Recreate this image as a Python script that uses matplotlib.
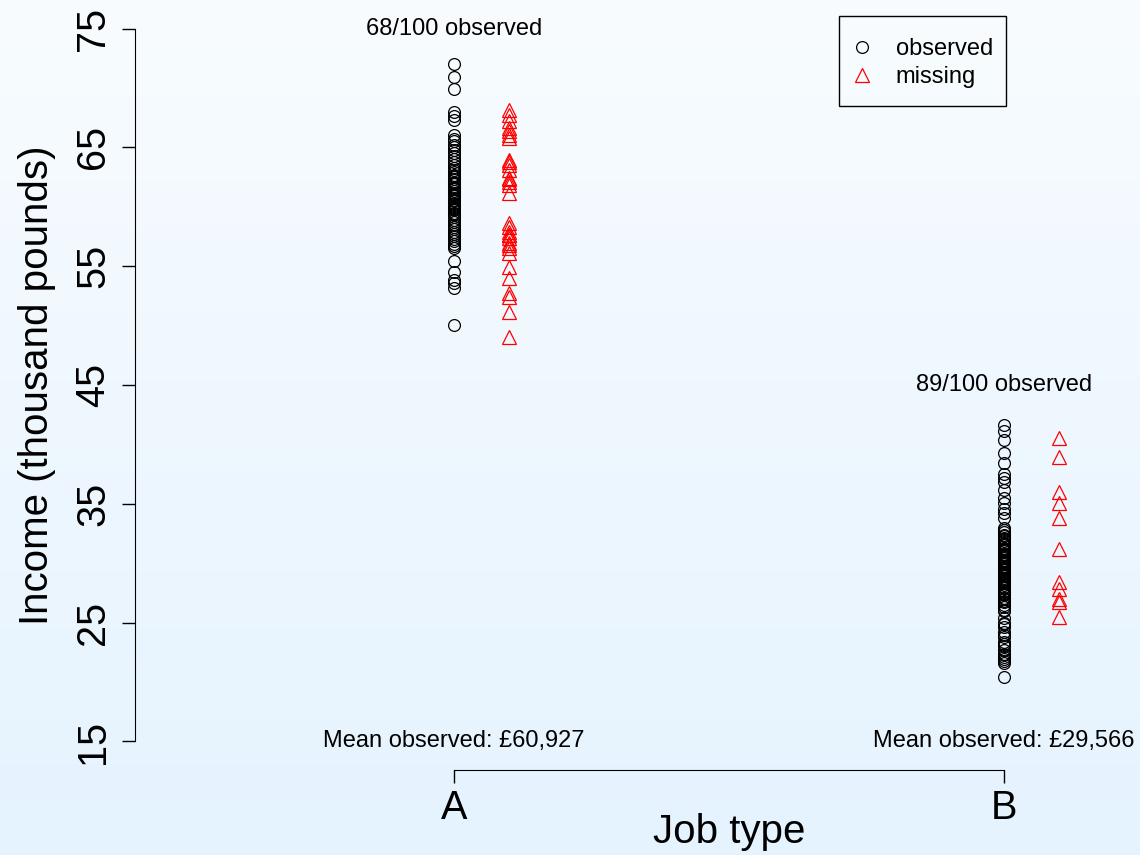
import matplotlib
matplotlib.use("Agg")
import matplotlib.pyplot as plt
from matplotlib.lines import Line2D
from matplotlib.patches import Rectangle
import numpy as np

# income values (thousand pounds)
a_observed = [72.05, 70.9, 69.9, 68.0, 67.6, 67.3,
              66.0, 65.7, 65.5, 65.2, 65.0, 64.8, 64.5, 64.3, 64.0, 63.8,
              63.5, 63.3, 63.1, 62.9, 62.7, 62.6, 62.5, 62.3, 62.1, 62.0,
              61.9, 61.7, 61.6, 61.5, 61.3, 61.2, 61.1, 61.0, 60.9, 60.7,
              60.6, 60.5, 60.3, 60.2, 60.1, 60.0, 59.9, 59.8, 59.7, 59.5,
              59.4, 59.3, 59.1, 58.9, 58.7, 58.5, 58.3, 58.1, 57.9, 57.7,
              57.5, 57.3, 57.1, 56.9, 56.7, 56.5,
              55.4, 54.5, 53.8, 53.6, 53.2, 50.05]
a_missing = [68.17, 67.75, 67.19, 66.66, 66.4, 66.07, 65.82,
             63.96, 63.8, 63.54, 63.12, 62.44, 62.3, 62.11, 61.85, 61.18,
             58.65, 58.31, 57.89, 57.64, 57.6, 57.39, 56.97, 56.8, 56.55, 56.12,
             54.94, 54.02, 52.75, 52.42, 51.16, 49.05]
b_observed = [41.6, 41.1, 40.4, 39.3, 38.4, 37.5, 37.2, 36.8, 36.2, 35.5, 35.1, 34.6, 34.2, 33.8,
              33.0, 32.8, 32.6, 32.4, 32.3, 32.1, 31.9, 31.7, 31.5, 31.3,
              31.2, 31.0, 30.8, 30.7, 30.5, 30.4, 30.2, 30.1, 29.9, 29.8,
              29.7, 29.5, 29.4, 29.3, 29.1, 29.0, 28.9, 28.7, 28.6, 28.5,
              28.3, 28.2, 28.0, 27.9, 27.7, 27.6, 27.4, 27.3, 27.1, 27.0,
              26.8, 26.7, 26.5, 26.3, 26.1, 26.0, 29.6, 30.0, 30.6, 31.1,
              28.8, 28.4, 27.5, 29.2, 30.3, 31.6, 32.0,
              25.4, 25.0, 24.6, 24.2, 23.8, 23.4, 23.0, 22.7, 22.4, 22.1,
              21.8, 21.6, 21.9, 22.3, 23.2, 24.0, 24.9, 20.4]
b_missing = [40.53, 38.96, 36.0, 35.03, 33.77, 31.16, 28.43, 27.87, 27.03, 26.75, 25.48]

job_types = ["A", "B"]
counts_text = ["68/100 observed", "89/100 observed"]
count_y = [75, 45]
mean_text = ["Mean observed: £60,927", "Mean observed: £29,566"]
yticks = [15, 25, 35, 45, 55, 65, 75]

plt.rcParams['font.family'] = ['Liberation Sans', 'DejaVu Sans']

fig = plt.figure(figsize=(11.4, 8.55), dpi=100)

# gradient background
bg = fig.add_axes([0, 0, 1, 1], zorder=-1)
top = np.array([248, 252, 255]) / 255
bot = np.array([229, 243, 254]) / 255
t = np.linspace(0, 1, 256)[:, None]
grad = top[None, :] * (1 - t) + bot[None, :] * t
bg.imshow(grad[:, None, :], aspect='auto', extent=[0, 1, 0, 1])
bg.axis('off')

ax = fig.add_axes([135 / 1140, 1 - 770 / 855, 1 - 135 / 1140, 770 / 855])
ax.patch.set_alpha(0)

obs_style = dict(linestyle='none', marker='o', markersize=8.5, markerfacecolor='none',
                 markeredgecolor='black', markeredgewidth=0.9)
mis_style = dict(linestyle='none', marker='^', markersize=10.5, markerfacecolor='none',
                 markeredgecolor='red', markeredgewidth=0.9)

for i, (obs, mis) in enumerate([(a_observed, a_missing), (b_observed, b_missing)]):
    x = i + 1
    ax.plot([x] * len(obs), obs, **obs_style)
    ax.plot([x + 0.1] * len(mis), mis, **mis_style)
    ax.text(x, count_y[i], counts_text[i], ha='center', va='center', fontsize=17)
    ax.text(x, 15, mean_text[i], ha='center', va='center', fontsize=17)

ax.set_xlim(0.42, 2.248)
ax.set_ylim(12.6, 77.4)

for s in ['top', 'right']:
    ax.spines[s].set_visible(False)
ax.spines['left'].set_bounds(15, 75)
ax.spines['bottom'].set_bounds(1, 2)

ax.set_yticks(yticks)
ax.set_yticklabels([str(v) for v in yticks], rotation=90, va='center')
ax.set_xticks([1, 2])
ax.set_xticklabels(job_types)
ax.tick_params(axis='both', length=9.5, width=1, labelsize=28.5, direction='out')
ax.tick_params(axis='y', pad=7)
ax.tick_params(axis='x', pad=4)

ax.set_ylabel("Income (thousand pounds)", fontsize=29, va='center')
ax.yaxis.set_label_coords(-0.098, 0.5)
ax.set_xlabel("Job type", fontsize=29, va='center')
ax.xaxis.set_label_coords(0.591, -0.08)

# legend box drawn separately so its size matches
ax.add_patch(Rectangle((0.7005, 0.8623), 0.1662, 0.1169, transform=ax.transAxes,
                       fill=False, edgecolor='black', linewidth=1, clip_on=False))
handles = [Line2D([], [], **obs_style), Line2D([], [], **mis_style)]
ax.legend(handles, ["observed", "missing"], loc='upper left',
          bbox_to_anchor=(0.7114, 0.9506), borderaxespad=0, borderpad=0, fontsize=17,
          frameon=False, handlelength=1.0, handletextpad=0.93, labelspacing=0.25)

plt.savefig("out.png", dpi=100)
